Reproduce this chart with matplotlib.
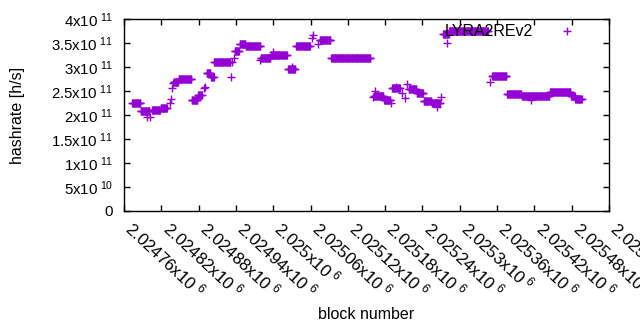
import numpy as np
import matplotlib
matplotlib.use('Agg')
import matplotlib.pyplot as plt
from matplotlib.ticker import FuncFormatter


# runs of blocks sharing the same estimated hashrate (block offset from 2024000, h/s)
run_start = [773, 787, 805, 819, 840, 848, 869, 879, 893, 900, 905, 938, 946, 956,
             980, 996, 1024, 1037, 1075, 1093, 1162, 1178, 1191, 1218, 1231, 1242,
             1255, 1273, 1283, 1352, 1376, 1400, 1445, 1479, 1486]
run_end = [786, 801, 818, 829, 847, 868, 878, 885, 899, 904, 931, 945, 955, 979,
           995, 1022, 1035, 1059, 1092, 1156, 1177, 1188, 1204, 1230, 1241, 1254,
           1268, 1282, 1345, 1375, 1399, 1444, 1478, 1485, 1496]
run_rate = [22.4, 20.8, 21.0, 21.4, 26.8, 27.4, 23.2, 24.2, 28.7, 28.0, 31.0, 33.4, 34.8, 34.3,
            31.9, 32.4, 29.6, 34.3, 35.6, 31.8, 23.9, 23.1, 25.6, 25.5, 24.5, 22.9,
            22.4, 36.9, 37.6, 28.1, 24.4, 24.0, 24.7, 24.0, 23.3]

# isolated blocks
single_block = [797, 802, 834, 835, 837, 839, 889, 890, 932, 934, 937, 979, 1000, 1030,
                1062, 1064, 1072, 1160, 1164, 1189, 1197, 1207, 1212, 1215, 1263, 1270,
                1279, 1349, 1414]
single_rate = [19.6, 19.5, 22.6, 23.4, 25.6, 26.6, 25.6, 25.9, 27.9, 31.1, 31.8, 31.5, 33.2, 30.1,
               36.0, 36.7, 34.8, 23.8, 24.9, 22.4, 25.9, 24.5, 23.5, 26.5, 21.7, 23.8,
               34.9, 26.9, 23.1]

BASE = 2024000
x_min, x_max, x_step = 2024760, 2025540, 60
y_min, y_max, y_step = 0, 4e11, 5e10


def build_points():
    xs, ys = [], []
    for s, e, r in zip(run_start, run_end, run_rate):
        for b in range(s, e + 1):
            xs.append(BASE + b)
            ys.append(r * 1e10)
    for b, r in zip(single_block, single_rate):
        xs.append(BASE + b)
        ys.append(r * 1e10)
    return np.array(xs), np.array(ys)


def sci_label(v, pos=None):
    if v == 0:
        return '0'
    e = int(np.floor(np.log10(abs(v)) + 1e-9))
    m = v / 10 ** e
    return r'$\mathregular{%sx10^{\ %d}}$' % ('%g' % round(m, 6), e)


def main():
    plt.rcParams['font.family'] = ['Liberation Sans', 'DejaVu Sans']
    plt.rcParams['font.size'] = 11.5
    plt.rcParams['mathtext.fontset'] = 'custom'
    plt.rcParams['mathtext.rm'] = 'Liberation Sans'

    x, y = build_points()

    fig = plt.figure(figsize=(6.4, 3.3), dpi=100)
    ax = fig.add_axes([124 / 640, 1 - 211 / 330, 485 / 640, 192 / 330])
    ax.plot(x, y, linestyle='none', marker='+', markersize=5.5, markeredgewidth=1.0,
            color='#9400d3', label='LYRA2REv2')

    ax.set_xlim(x_min, x_max)
    ax.set_ylim(y_min, y_max)
    ax.set_xticks(np.arange(x_min, x_max + 1, x_step))
    ax.set_yticks(np.arange(y_min, y_max + 1, y_step))
    ax.xaxis.set_major_formatter(FuncFormatter(sci_label))
    ax.yaxis.set_major_formatter(FuncFormatter(sci_label))
    ax.tick_params(direction='in', length=4, width=1, top=True, right=True, color='black')
    ax.tick_params(axis='y', pad=8, labelsize=10.8)
    ax.tick_params(axis='x', pad=14, labelsize=12.2)
    for lab in ax.get_xticklabels():
        lab.set_rotation(-43)
        lab.set_ha('left')
        lab.set_va('baseline')
        lab.set_rotation_mode('anchor')
    for sp in ax.spines.values():
        sp.set_linewidth(1.0)

    ax.set_xlabel('block number')
    ax.set_ylabel('hashrate [h/s]')
    ax.xaxis.set_label_coords(0.5, (211 - 307) / 192)
    ax.yaxis.set_label_coords((25 - 124) / 485, 0.5)

    ax.legend(loc='center right', bbox_to_anchor=((583 - 124) / 485, 1 - (32 - 19) / 192),
              frameon=False, markerfirst=False, borderpad=0, borderaxespad=0,
              handlelength=2.0, handletextpad=1.1, numpoints=1)

    plt.savefig('out.png', dpi=100)
    plt.close()


if __name__ == '__main__':
    main()
